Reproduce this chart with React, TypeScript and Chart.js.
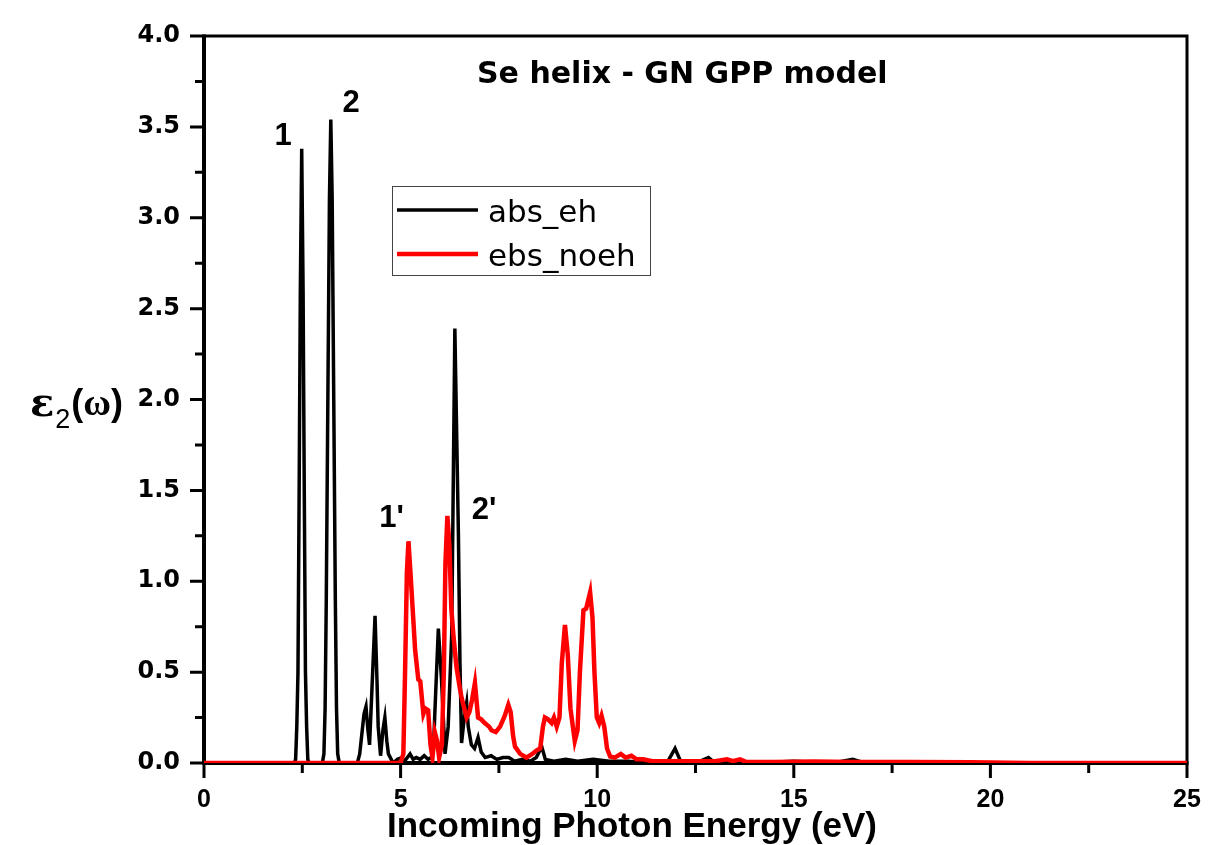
import React, { useEffect, useRef } from "react";
import { Chart, registerables } from "chart.js";

Chart.register(...registerables);

// ---------- data ----------
const energyEh = [
  0, 2.3, 2.33, 2.36, 2.39, 2.42, 2.45, 2.485, 2.52, 2.55, 2.58, 2.61, 2.64, 2.67,
  3.01, 3.05, 3.08, 3.11, 3.15, 3.19, 3.225, 3.26, 3.3, 3.34, 3.37, 3.4, 3.44,
  3.9, 3.96, 4.01, 4.07, 4.12, 4.17, 4.21, 4.27, 4.35, 4.4, 4.43, 4.49, 4.55, 4.6, 4.65, 4.69,
  4.81, 4.92, 5.03, 5.1, 5.24, 5.32, 5.4, 5.5, 5.6, 5.7, 5.78, 5.83, 5.87, 5.96, 6.04, 6.13,
  6.21, 6.3, 6.38, 6.47, 6.51, 6.55, 6.62, 6.68, 6.72, 6.8, 6.88, 6.97, 7.05, 7.15, 7.3,
  7.45, 7.6, 7.75, 7.9, 8.1, 8.3, 8.45, 8.59, 8.68, 8.9, 9.2, 9.5, 9.9, 10.3, 10.8, 11.3,
  11.8, 11.98, 12.12, 12.5, 12.83, 13.0, 14.0, 15.0, 16.0, 16.5, 16.8, 18.0, 25.0,
];
const epsEh = [
  0, 0, 0.02, 0.2, 0.5, 1.5, 2.6, 3.38, 2.6, 1.5, 0.5, 0.2, 0.02, 0,
  0, 0.05, 0.3, 0.9, 2.0, 3.1, 3.54, 3.1, 2.0, 0.9, 0.3, 0.05, 0,
  0, 0.05, 0.15, 0.27, 0.31, 0.18, 0.1, 0.4, 0.81, 0.45, 0.2, 0.04, 0.18, 0.25, 0.12, 0.05,
  0, 0.02, 0.03, 0.01, 0.05, 0.02, 0.03, 0.02, 0.04, 0.02, 0.03, 0.05, 0.27, 0.74, 0.46, 0.05,
  0.2, 0.71, 2.39, 1.26, 0.55, 0.11, 0.25, 0.33, 0.2, 0.1, 0.08, 0.14, 0.06, 0.03, 0.04,
  0.02, 0.03, 0.03, 0.01, 0.02, 0.01, 0.03, 0.09, 0.02, 0.01, 0.02, 0.01, 0.02, 0.01, 0.01, 0,
  0.01, 0.08, 0.01, 0, 0.03, 0, 0, 0.01, 0, 0.02, 0, 0, 0,
];
const energyNoeh = [
  0, 5.0, 5.07, 5.11, 5.16, 5.2, 5.25, 5.32, 5.37, 5.45, 5.5, 5.58, 5.63, 5.7, 5.76, 5.81,
  5.87, 5.93, 5.98, 6.05, 6.1, 6.14, 6.19, 6.24, 6.29, 6.34, 6.42, 6.5, 6.55, 6.62, 6.68,
  6.75, 6.82, 6.89, 6.97, 7.05, 7.14, 7.25, 7.31, 7.42, 7.53, 7.65, 7.74, 7.8, 7.86, 7.91,
  8.04, 8.2, 8.35, 8.46, 8.55, 8.62, 8.67, 8.75, 8.84, 8.9, 8.97, 9.04, 9.1, 9.18, 9.25,
  9.32, 9.43, 9.5, 9.56, 9.65, 9.72, 9.82, 9.88, 9.93, 9.99, 10.05, 10.11, 10.18, 10.25,
  10.33, 10.45, 10.6, 10.72, 10.87, 11.0, 11.17, 11.4, 12.0, 12.6, 13.0, 13.3, 13.45, 13.63,
  13.8, 14.5, 15.5, 16.5, 18.0, 19.5, 21.0, 25.0,
];
const epsNoeh = [
  0, 0, 0.05, 0.46, 1.05, 1.22, 1.05, 0.8, 0.62, 0.46, 0.45, 0.27, 0.3, 0.29, 0.1, 0.03,
  0.17, 0.12, 0.03, 0.1, 0.5, 1.1, 1.36, 1.2, 0.85, 0.71, 0.53, 0.42, 0.36, 0.3, 0.25,
  0.28, 0.35, 0.44, 0.25, 0.24, 0.22, 0.2, 0.18, 0.17, 0.2, 0.26, 0.32, 0.28, 0.15, 0.09,
  0.05, 0.03, 0.05, 0.07, 0.08, 0.2, 0.25, 0.24, 0.22, 0.25, 0.2, 0.25, 0.55, 0.76, 0.6,
  0.3, 0.12, 0.18, 0.5, 0.84, 0.85, 0.94, 0.8, 0.5, 0.25, 0.22, 0.26, 0.2, 0.08,
  0.035, 0.03, 0.05, 0.03, 0.04, 0.02, 0.02, 0.01, 0.01, 0.01, 0.01, 0.02, 0.01, 0.02,
  0.005, 0.005, 0.008, 0.005, 0.005, 0.004, 0, 0,
];

const seriesLabels = ["abs_eh", "ebs_noeh"];
const seriesColors = ["#000000", "#ff0000"];
const seriesWidths = [3.5, 4.5];

const xMin = 0;
const xMax = 25;
const xMajorStep = 5;
const xMinorStep = 2.5;
const yMin = 0;
const yMax = 4;
const yMajorStep = 0.5;
const yMinorStep = 0.25;

const chartTitle = "Se helix - GN GPP model";
const xAxisTitle = "Incoming Photon Energy (eV)";
const yTitleMain = "ε";
const yTitleSub = "2";
const yTitleArg = "ω";

const peakLabels = ["1", "2", "1'", "2'"];
const peakLabelX = [2.01, 3.74, 4.77, 7.12];
const peakLabelY = [3.4, 3.58, 1.3, 1.34];

// ---------- plugins ----------
const framePlugin = {
  id: "frame",
  beforeDatasetsDraw(chart: any) {
    const { ctx, chartArea } = chart;
    const { left, right, top, bottom } = chartArea;
    ctx.save();
    ctx.strokeStyle = "#000";
    ctx.lineWidth = 3;
    ctx.beginPath();
    ctx.moveTo(left, top);
    ctx.lineTo(right, top);
    ctx.lineTo(right, bottom);
    ctx.stroke();
    ctx.lineWidth = 4;
    ctx.beginPath();
    ctx.moveTo(left, top - 1.5);
    ctx.lineTo(left, bottom);
    ctx.lineTo(right + 1.5, bottom);
    ctx.stroke();

    // tick marks
    const xs = chart.scales.x;
    const ys = chart.scales.y;
    ctx.lineWidth = 3;
    ctx.beginPath();
    for (let v = yMin; v <= yMax + 1e-9; v += yMinorStep) {
      const p = ys.getPixelForValue(v);
      const major = Math.abs(v / yMajorStep - Math.round(v / yMajorStep)) < 1e-6;
      const len = major ? 14 : 9;
      ctx.moveTo(left - len, p);
      ctx.lineTo(left, p);
    }
    for (let v = xMin; v <= xMax + 1e-9; v += xMinorStep) {
      const p = xs.getPixelForValue(v);
      const major = Math.abs(v / xMajorStep - Math.round(v / xMajorStep)) < 1e-6;
      const len = major ? 15 : 10;
      ctx.moveTo(p, bottom);
      ctx.lineTo(p, bottom + len);
    }
    ctx.stroke();
    ctx.restore();
  },
};

const textPlugin = {
  id: "texts",
  afterDraw(chart: any) {
    const { ctx } = chart;
    const xs = chart.scales.x;
    const ys = chart.scales.y;
    ctx.save();
    ctx.fillStyle = "#000";
    ctx.textBaseline = "alphabetic";

    // title
    ctx.textAlign = "left";
    ctx.font = 'bold 30px "DejaVu Sans"';
    ctx.fillText(chartTitle, 477, 83);

    // peak labels
    ctx.textAlign = "center";
    ctx.font = 'bold 31px "Liberation Sans"';
    peakLabels.forEach((t, i) => {
      ctx.fillText(t, xs.getPixelForValue(peakLabelX[i]), ys.getPixelForValue(peakLabelY[i]));
    });

    // x axis title
    ctx.textAlign = "center";
    ctx.font = 'bold 35px "Liberation Sans"';
    ctx.fillText(xAxisTitle, 632, 837);

    // y axis title
    ctx.textAlign = "left";
    ctx.font = 'bold 40px "DejaVu Serif"';
    ctx.fillText(yTitleMain, 30, 416);
    let x = 30 + ctx.measureText(yTitleMain).width + 1;
    ctx.font = '27px "Liberation Sans"';
    ctx.fillText(yTitleSub, x, 428);
    x += ctx.measureText(yTitleSub).width + 1;
    ctx.font = 'bold 36px "Liberation Sans"';
    ctx.fillText("(", x, 415);
    x += ctx.measureText("(").width;
    ctx.font = 'bold 38px "Liberation Serif"';
    ctx.fillText(yTitleArg, x, 415);
    x += ctx.measureText(yTitleArg).width;
    ctx.font = 'bold 36px "Liberation Sans"';
    ctx.fillText(")", x, 415);

    // legend
    const bx = 392, by = 186, bw = 258, bh = 89;
    ctx.strokeStyle = "#444";
    ctx.lineWidth = 1;
    ctx.strokeRect(bx + 0.5, by + 0.5, bw, bh);
    const rows = [210, 254];
    chart.data.datasets.forEach((ds: any, i: number) => {
      ctx.strokeStyle = ds.borderColor;
      ctx.lineWidth = ds.borderWidth;
      ctx.beginPath();
      ctx.moveTo(397, rows[i]);
      ctx.lineTo(478, rows[i]);
      ctx.stroke();
      ctx.font = '31px "DejaVu Sans"';
      ctx.textAlign = "left";
      ctx.fillText(ds.label, 488, rows[i] + 12);
    });
    ctx.restore();
  },
};

export default function App() {
  const canvasRef = useRef<HTMLCanvasElement>(null);

  useEffect(() => {
    const canvas = canvasRef.current;
    if (!canvas) return;
    const series = [
      { xs: energyEh, ys: epsEh },
      { xs: energyNoeh, ys: epsNoeh },
    ];
    const chart = new Chart(canvas, {
      type: "line",
      data: {
        datasets: series.map((s, i) => ({
          label: seriesLabels[i],
          data: s.xs.map((x, j) => ({ x, y: s.ys[j] })),
          borderColor: seriesColors[i],
          backgroundColor: seriesColors[i],
          borderWidth: seriesWidths[i],
          pointRadius: 0,
          tension: 0,
          fill: false,
          order: i === 0 ? 1 : 0,
        })),
      },
      options: {
        responsive: false,
        animation: false,
        devicePixelRatio: 1,
        layout: { padding: { top: 36, right: 23, left: 0, bottom: 0 } },
        scales: {
          x: {
            type: "linear",
            min: xMin,
            max: xMax,
            afterFit: (s: any) => {
              s.height = 82;
              s.paddingLeft = 0;
              s.paddingRight = 0;
            },
            grid: { display: false, drawTicks: false },
            border: { display: false },
            ticks: {
              stepSize: xMajorStep,
              padding: 22,
              color: "#000",
              font: { family: '"Liberation Sans", Arial, sans-serif', size: 25, weight: "bold" },
              callback: (v: any) => String(v),
            },
          },
          y: {
            type: "linear",
            min: yMin,
            max: yMax,
            afterFit: (s: any) => {
              s.width = 204;
              s.paddingTop = 0;
              s.paddingBottom = 0;
            },
            grid: { display: false, drawTicks: false },
            border: { display: false },
            ticks: {
              stepSize: yMajorStep,
              padding: 24,
              color: "#000",
              font: { family: '"DejaVu Sans", sans-serif', size: 24, weight: "bold" },
              callback: (v: any) => Number(v).toFixed(1),
            },
          },
        },
        plugins: {
          legend: { display: false },
          title: { display: false },
          tooltip: { enabled: false },
        },
      } as any,
      plugins: [framePlugin, textPlugin],
    });
    return () => chart.destroy();
  }, []);

  return (
    <div style={{ position: "absolute", left: 0, top: 0, width: 1210, height: 845, background: "#fff" }}>
      <canvas ref={canvasRef} width={1210} height={845} style={{ width: 1210, height: 845, display: "block" }} />
    </div>
  );
}
